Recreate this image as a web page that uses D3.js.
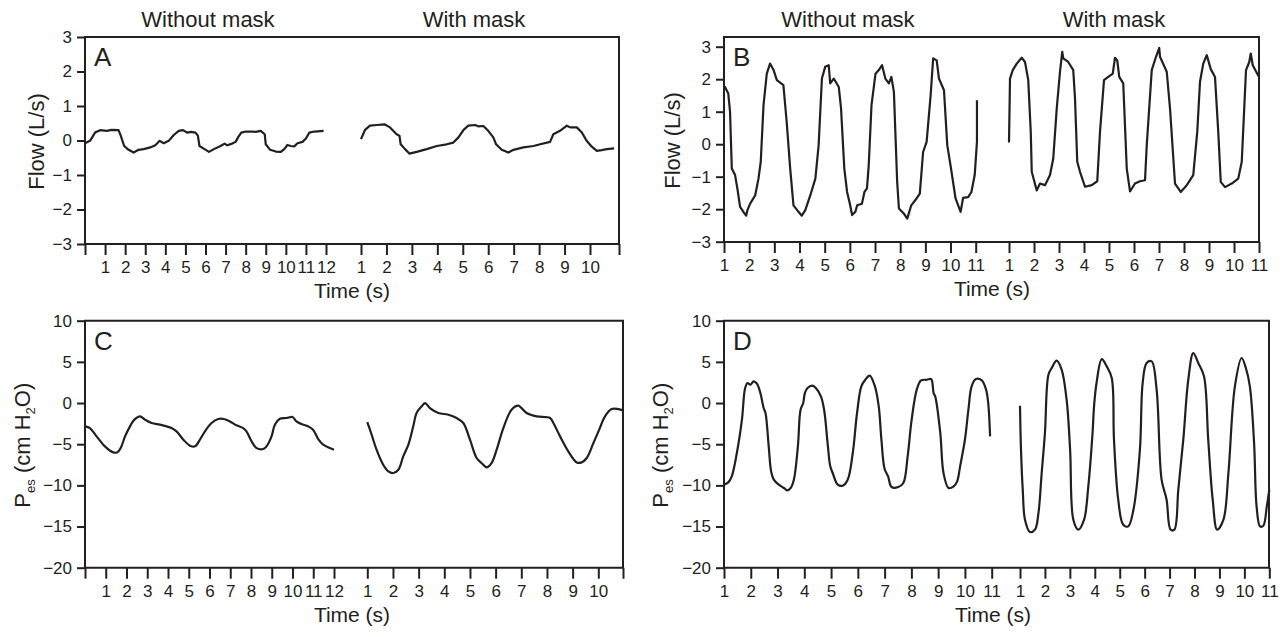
<!DOCTYPE html>
<html>
<head>
<meta charset="utf-8">
<script src="https://cdn.jsdelivr.net/npm/d3@7"></script>
<style>
  body { margin: 0; background: #fff; }
  svg { display: block; }
  text { font-family: Arial, "Liberation Sans", Helvetica, sans-serif; fill: #231f20; }
</style>
</head>
<body>
<svg id="chart" width="1288" height="637"></svg>
<script>
// ---- data: [time (s), value] ----
const flowA_noMask = [[0,-0.08],[0.25,-0.01],[0.5,0.23],[0.75,0.30],[1.08,0.28],[1.33,0.31],[1.67,0.30],[1.78,0.14],[1.95,-0.16],[2.17,-0.27],[2.42,-0.35],[2.67,-0.27],[2.92,-0.25],[3.25,-0.2],[3.5,-0.14],[3.72,-0.01],[3.92,-0.08],[4.17,-0.01],[4.42,0.16],[4.67,0.28],[4.88,0.30],[5.08,0.23],[5.28,0.25],[5.5,0.23],[5.62,0.14],[5.7,-0.16],[5.95,-0.25],[6.17,-0.33],[6.42,-0.25],[6.75,-0.16],[6.95,-0.09],[7.08,-0.14],[7.33,-0.09],[7.5,-0.04],[7.62,0.09],[7.78,0.23],[8.0,0.26],[8.33,0.26],[8.5,0.25],[8.75,0.28],[8.95,0.18],[9.0,-0.11],[9.22,-0.27],[9.5,-0.32],[9.75,-0.33],[9.92,-0.25],[10.08,-0.13],[10.25,-0.16],[10.42,-0.17],[10.58,-0.08],[10.83,-0.04],[11.0,0.06],[11.17,0.23],[11.42,0.26],[11.88,0.28]];
const flowA_mask = [[1,0.04],[1.16,0.31],[1.35,0.43],[1.62,0.45],[1.92,0.47],[2.14,0.38],[2.40,0.18],[2.51,0.14],[2.56,-0.11],[2.73,-0.25],[2.90,-0.38],[3.19,-0.33],[3.58,-0.25],[3.98,-0.16],[4.37,-0.11],[4.63,-0.06],[4.83,0.09],[5.03,0.31],[5.22,0.43],[5.48,0.45],[5.61,0.41],[5.81,0.42],[6.0,0.28],[6.2,0.09],[6.31,-0.11],[6.53,-0.27],[6.79,-0.35],[6.99,-0.27],[7.38,-0.2],[7.78,-0.16],[8.04,-0.11],[8.43,-0.04],[8.56,0.18],[8.82,0.28],[9.09,0.43],[9.22,0.38],[9.48,0.38],[9.68,0.23],[9.87,-0.01],[10.07,-0.18],[10.27,-0.30],[10.46,-0.28],[10.66,-0.25],[10.95,-0.23]];
const flowB_noMask = [[1.0,1.78],[1.04,1.76],[1.17,1.56],[1.24,1.0],[1.31,-0.75],[1.44,-0.95],[1.53,-1.36],[1.64,-1.93],[1.77,-2.08],[1.88,-2.2],[1.93,-2.03],[2.04,-1.83],[2.24,-1.57],[2.37,-1.06],[2.46,-0.54],[2.57,1.2],[2.70,2.17],[2.83,2.48],[2.97,2.28],[3.10,1.97],[3.36,1.82],[3.49,0.69],[3.63,-0.75],[3.76,-1.88],[3.96,-2.08],[4.09,-2.2],[4.23,-2.03],[4.43,-1.57],[4.63,-1.06],[4.76,-0.03],[4.89,2.02],[5.02,2.38],[5.16,2.43],[5.22,1.87],[5.36,2.02],[5.56,1.76],[5.65,1.1],[5.78,-0.75],[5.89,-1.47],[6.0,-1.83],[6.09,-2.18],[6.22,-2.08],[6.29,-1.88],[6.48,-1.83],[6.58,-1.47],[6.68,-1.36],[6.75,-0.65],[6.86,1.2],[7.02,2.17],[7.15,2.28],[7.28,2.43],[7.41,2.02],[7.55,1.87],[7.65,2.07],[7.75,1.61],[7.88,-1.16],[7.95,-1.98],[8.14,-2.13],[8.28,-2.29],[8.44,-1.88],[8.65,-1.67],[8.78,-1.52],[8.91,-0.24],[9.05,0.07],[9.21,1.51],[9.31,2.64],[9.45,2.58],[9.54,2.02],[9.74,1.66],[9.87,-0.03],[10.0,-0.65],[10.2,-1.67],[10.4,-2.08],[10.5,-1.65],[10.7,-1.63],[10.83,-1.47],[10.96,-0.95],[11.05,0.07],[11.05,1.35]];
const flowB_mask = [[1.0,0.05],[1.04,2.02],[1.15,2.28],[1.31,2.48],[1.51,2.66],[1.64,2.53],[1.77,1.97],[1.87,0.38],[1.91,-0.85],[2.0,-1.11],[2.11,-1.42],[2.24,-1.21],[2.44,-1.26],[2.64,-0.95],[2.77,-0.44],[2.91,1.1],[3.04,2.23],[3.13,2.84],[3.17,2.64],[3.37,2.53],[3.57,2.28],[3.64,1.41],[3.73,-0.54],[3.84,-0.85],[4.04,-1.31],[4.31,-1.26],[4.53,-1.14],[4.64,0.38],[4.8,1.97],[4.97,2.07],[5.15,2.17],[5.24,2.66],[5.33,2.58],[5.41,2.07],[5.57,1.87],[5.71,-0.75],[5.84,-1.45],[6.04,-1.21],[6.24,-1.14],[6.44,-1.11],[6.51,-0.03],[6.71,2.28],[6.88,2.69],[7.01,2.96],[7.04,2.69],[7.31,2.23],[7.44,1.1],[7.64,-1.21],[7.87,-1.47],[8.11,-1.26],[8.37,-0.95],[8.53,0.38],[8.64,1.92],[8.77,2.48],[8.91,2.74],[9.07,2.31],[9.24,2.07],[9.37,0.38],[9.47,-1.16],[9.64,-1.32],[9.91,-1.21],[10.17,-1.06],[10.31,-0.54],[10.48,2.28],[10.61,2.53],[10.67,2.79],[10.75,2.43],[11.0,2.07]];
const pesC_noMask = [[0,-2.83],[0.24,-3.04],[0.56,-4.05],[0.96,-5.26],[1.36,-5.99],[1.56,-5.99],[1.72,-5.47],[1.93,-4.05],[2.17,-2.83],[2.38,-2.02],[2.65,-1.62],[2.89,-2.02],[3.21,-2.43],[3.61,-2.63],[3.93,-2.83],[4.17,-3.04],[4.41,-3.44],[4.74,-4.45],[5.06,-5.18],[5.30,-5.26],[5.54,-4.45],[5.78,-3.44],[6.10,-2.43],[6.42,-1.94],[6.69,-1.94],[6.98,-2.23],[7.3,-2.71],[7.62,-3.04],[7.78,-3.44],[8.03,-4.66],[8.27,-5.47],[8.59,-5.59],[8.75,-5.26],[8.99,-4.05],[9.15,-2.63],[9.39,-1.90],[9.71,-1.82],[10.0,-1.70],[10.19,-2.23],[10.43,-2.55],[10.75,-2.83],[10.99,-3.24],[11.24,-4.37],[11.48,-5.06],[11.8,-5.47],[12.0,-5.67]];
const pesC_mask = [[1.0,-2.31],[1.17,-3.85],[1.36,-5.67],[1.62,-7.49],[1.82,-8.30],[2.01,-8.50],[2.21,-8.10],[2.40,-6.48],[2.60,-5.06],[2.79,-2.83],[2.92,-1.21],[3.12,-0.40],[3.25,0.0],[3.44,-0.61],[3.77,-1.21],[4.16,-1.42],[4.48,-1.82],[4.74,-2.43],[5.0,-4.45],[5.26,-6.68],[5.45,-7.29],[5.65,-7.81],[5.84,-7.29],[6.04,-5.67],[6.30,-3.04],[6.62,-0.81],[6.88,-0.32],[7.01,-0.61],[7.21,-1.21],[7.6,-1.62],[8.12,-1.82],[8.25,-2.43],[8.51,-4.05],[8.83,-5.87],[9.16,-7.21],[9.35,-7.21],[9.55,-6.68],[9.81,-4.86],[10.06,-3.04],[10.26,-1.62],[10.52,-0.73],[10.78,-0.73],[10.97,-0.89]];
const pesD_noMask = [[1.0,-9.92],[1.16,-9.64],[1.29,-8.91],[1.48,-6.07],[1.67,-2.02],[1.79,1.82],[1.88,2.43],[1.98,2.23],[2.11,2.63],[2.23,2.35],[2.36,1.21],[2.48,-0.61],[2.55,-1.21],[2.67,-5.26],[2.76,-8.30],[2.86,-9.31],[3.05,-9.92],[3.24,-10.32],[3.36,-10.6],[3.49,-10.32],[3.61,-9.31],[3.76,-5.26],[3.86,-0.81],[3.96,0.0],[4.02,1.21],[4.12,1.82],[4.30,2.11],[4.43,1.82],[4.62,0.81],[4.74,-0.81],[4.87,-4.86],[4.97,-7.69],[5.06,-8.50],[5.25,-9.92],[5.43,-10.04],[5.62,-9.31],[5.81,-6.07],[5.97,-1.21],[6.13,2.02],[6.28,2.83],[6.44,3.32],[6.63,2.11],[6.78,-0.40],[6.88,-4.45],[7.0,-8.02],[7.13,-8.91],[7.26,-10.2],[7.51,-10.2],[7.70,-9.72],[7.86,-6.48],[8.01,-2.02],[8.20,1.62],[8.36,2.75],[8.58,2.83],[8.74,2.91],[8.83,1.21],[8.89,0.81],[9.08,-3.64],[9.20,-8.50],[9.39,-10.32],[9.58,-10.12],[9.71,-9.51],[9.82,-7.69],[10.0,-4.45],[10.13,-0.81],[10.25,2.02],[10.41,2.91],[10.63,2.75],[10.79,1.62],[10.87,0.0],[10.94,-4.05]];
const pesD_mask = [[1.0,-0.32],[1.04,-5.67],[1.11,-10.53],[1.20,-14.17],[1.40,-15.67],[1.60,-15.38],[1.74,-13.36],[1.87,-8.50],[2.0,-3.64],[2.14,3.44],[2.27,4.25],[2.47,5.14],[2.67,4.05],[2.87,0.40],[3.01,-5.67],[3.14,-14.17],[3.34,-15.38],[3.57,-14.17],[3.74,-10.12],[3.91,-3.64],[3.97,-0.4],[4.07,2.43],[4.28,5.34],[4.48,4.45],[4.68,3.04],[4.77,-4.45],[4.94,-11.74],[5.14,-14.78],[5.34,-14.98],[5.55,-12.96],[5.81,-5.67],[5.92,2.43],[6.08,4.86],[6.28,5.06],[6.48,1.62],[6.68,-9.31],[6.88,-11.74],[7.04,-15.38],[7.19,-15.38],[7.35,-10.53],[7.55,-4.45],[7.75,2.83],[7.95,6.07],[8.15,4.86],[8.38,3.24],[8.55,-4.45],[8.73,-11.74],[8.91,-15.38],[9.16,-14.17],[9.36,-8.50],[9.62,2.02],[9.89,5.47],[10.06,4.25],[10.22,2.02],[10.39,-4.86],[10.49,-12.55],[10.63,-14.98],[10.76,-14.9],[10.90,-12.55],[11.0,-10.53]];

// ---- tick values ----
const flowTicks = [-3, -2, -1, 0, 1, 2, 3];
const pesTicks = [-20, -15, -10, -5, 0, 5, 10];
const ticks0to12 = d3.range(0, 13);
const ticks1to10 = d3.range(1, 11);
const ticks1to11 = d3.range(1, 12);

const ink = "#231f20";
const svg = d3.select("#chart");

const panels = [
  { letter: "A", left: 85, right: 619, top: 37, bottom: 244, yRange: [244, 37], yDomain: [-3, 3], yTicks: flowTicks,
    yLabel: "flow", yLabelX: 36, titleY: 27, titles: [208, 474], timeX: 352,
    segs: [
      { data: flowA_noMask, domain: [0, 12], range: [85, 326], ticks: ticks0to12, hide: [0] },
      { data: flowA_mask, domain: [1, 10], range: [361, 590], ticks: ticks1to10, endTick: true }
    ] },
  { letter: "B", left: 724, right: 1259, top: 37, bottom: 242, yRange: [241.7, 46.7], yDomain: [-3, 3], yTicks: flowTicks,
    yLabel: "flow", yLabelX: 672, titleY: 27, titles: [848, 1114], timeX: 992,
    segs: [
      { data: flowB_noMask, domain: [1, 11], range: [724, 975.7], ticks: ticks1to11 },
      { data: flowB_mask, domain: [1, 11], range: [1009, 1259], ticks: ticks1to11 }
    ] },
  { letter: "C", left: 85, right: 623, top: 320.7, bottom: 567.7, yRange: [567.7, 320.7], yDomain: [-20, 10], yTicks: pesTicks,
    yLabel: "pes", yLabelX: 22, timeX: 352, curve: true,
    segs: [
      { data: pesC_noMask, domain: [0, 12], range: [85, 334], ticks: ticks0to12, hide: [0] },
      { data: pesC_mask, domain: [1, 10], range: [367.3, 598.3], ticks: ticks1to10, endTick: true }
    ] },
  { letter: "D", left: 724, right: 1269, top: 320.7, bottom: 567.7, yRange: [567.7, 320.7], yDomain: [-20, 10], yTicks: pesTicks,
    yLabel: "pes", yLabelX: 660, timeX: 993, curve: true,
    segs: [
      { data: pesD_noMask, domain: [1, 11], range: [724, 991.7], ticks: ticks1to11 },
      { data: pesD_mask, domain: [1, 11], range: [1020, 1269.3], ticks: ticks1to11 }
    ] }
];

const minus = d => (d < 0 ? "\u2212" + Math.abs(d) : String(d));

function drawPanel(p) {
  const g = svg.append("g");
  const y = d3.scaleLinear().domain(p.yDomain).range(p.yRange);

  // y axis ticks and labels
  const yAxis = g.append("g")
    .attr("transform", `translate(${p.left},0)`)
    .call(d3.axisLeft(y).tickValues(p.yTicks).tickSize(8).tickPadding(5).tickFormat(minus));
  yAxis.select(".domain").remove();
  yAxis.attr("color", ink).attr("font-size", 17).attr("font-family", null);
  yAxis.selectAll("line").attr("stroke-width", 2);

  // x axes, one per recording
  p.segs.forEach(s => {
    const x = d3.scaleLinear().domain(s.domain).range(s.range);
    const vals = s.ticks.slice();
    if (s.endTick) vals.push(x.invert(p.right));
    const xAxis = g.append("g")
      .attr("transform", `translate(0,${p.bottom})`)
      .call(d3.axisBottom(x).tickValues(vals).tickSize(11).tickPadding(6)
        .tickFormat(d => (Number.isInteger(d) && !(s.hide || []).includes(d)) ? d : ""));
    xAxis.select(".domain").remove();
    xAxis.attr("color", ink).attr("font-size", 17).attr("font-family", null);
    xAxis.selectAll("line").attr("stroke-width", 2);

    const line = d3.line()
      .x(d => x(d[0]))
      .y(d => y(d[1]))
      .curve(p.curve ? d3.curveCatmullRom.alpha(0.5) : d3.curveLinear);
    g.append("path")
      .datum(s.data)
      .attr("fill", "none")
      .attr("stroke", ink)
      .attr("stroke-width", 2.2)
      .attr("stroke-linejoin", "round")
      .attr("d", line);
  });

  // frame
  g.append("path")
    .attr("d", `M${p.left},${p.top}H${p.right}V${p.bottom}H${p.left}Z`)
    .attr("fill", "none")
    .attr("stroke", ink)
    .attr("stroke-width", 2);

  // panel letter
  g.append("text")
    .attr("x", p.left + 9)
    .attr("y", p.top + 29)
    .attr("font-size", 26)
    .text(p.letter);

  // x title
  g.append("text")
    .attr("x", p.timeX)
    .attr("y", p.bottom + 54)
    .attr("text-anchor", "middle")
    .attr("font-size", 21)
    .text("Time (s)");

  // y title
  const cy = (p.top + p.bottom) / 2;
  const yt = g.append("text")
    .attr("transform", `translate(${p.yLabelX},${cy + 1}) rotate(-90)`)
    .attr("text-anchor", "middle")
    .attr("dy", "0.35em")
    .attr("font-size", 22);
  if (p.yLabel === "flow") {
    yt.text("Flow (L/s)");
  } else {
    yt.append("tspan").text("P");
    yt.append("tspan").attr("font-size", 13).attr("dy", 5).text("es");
    yt.append("tspan").attr("dy", -5).text(" (cm H");
    yt.append("tspan").attr("font-size", 13).attr("dy", 5).text("2");
    yt.append("tspan").attr("dy", -5).text("O)");
  }

  // column titles
  if (p.titles) {
    ["Without mask", "With mask"].forEach((t, i) => {
      g.append("text")
        .attr("x", p.titles[i])
        .attr("y", p.titleY)
        .attr("text-anchor", "middle")
        .attr("font-size", 22)
        .text(t);
    });
  }
}

panels.forEach(drawPanel);
</script>
</body>
</html>
